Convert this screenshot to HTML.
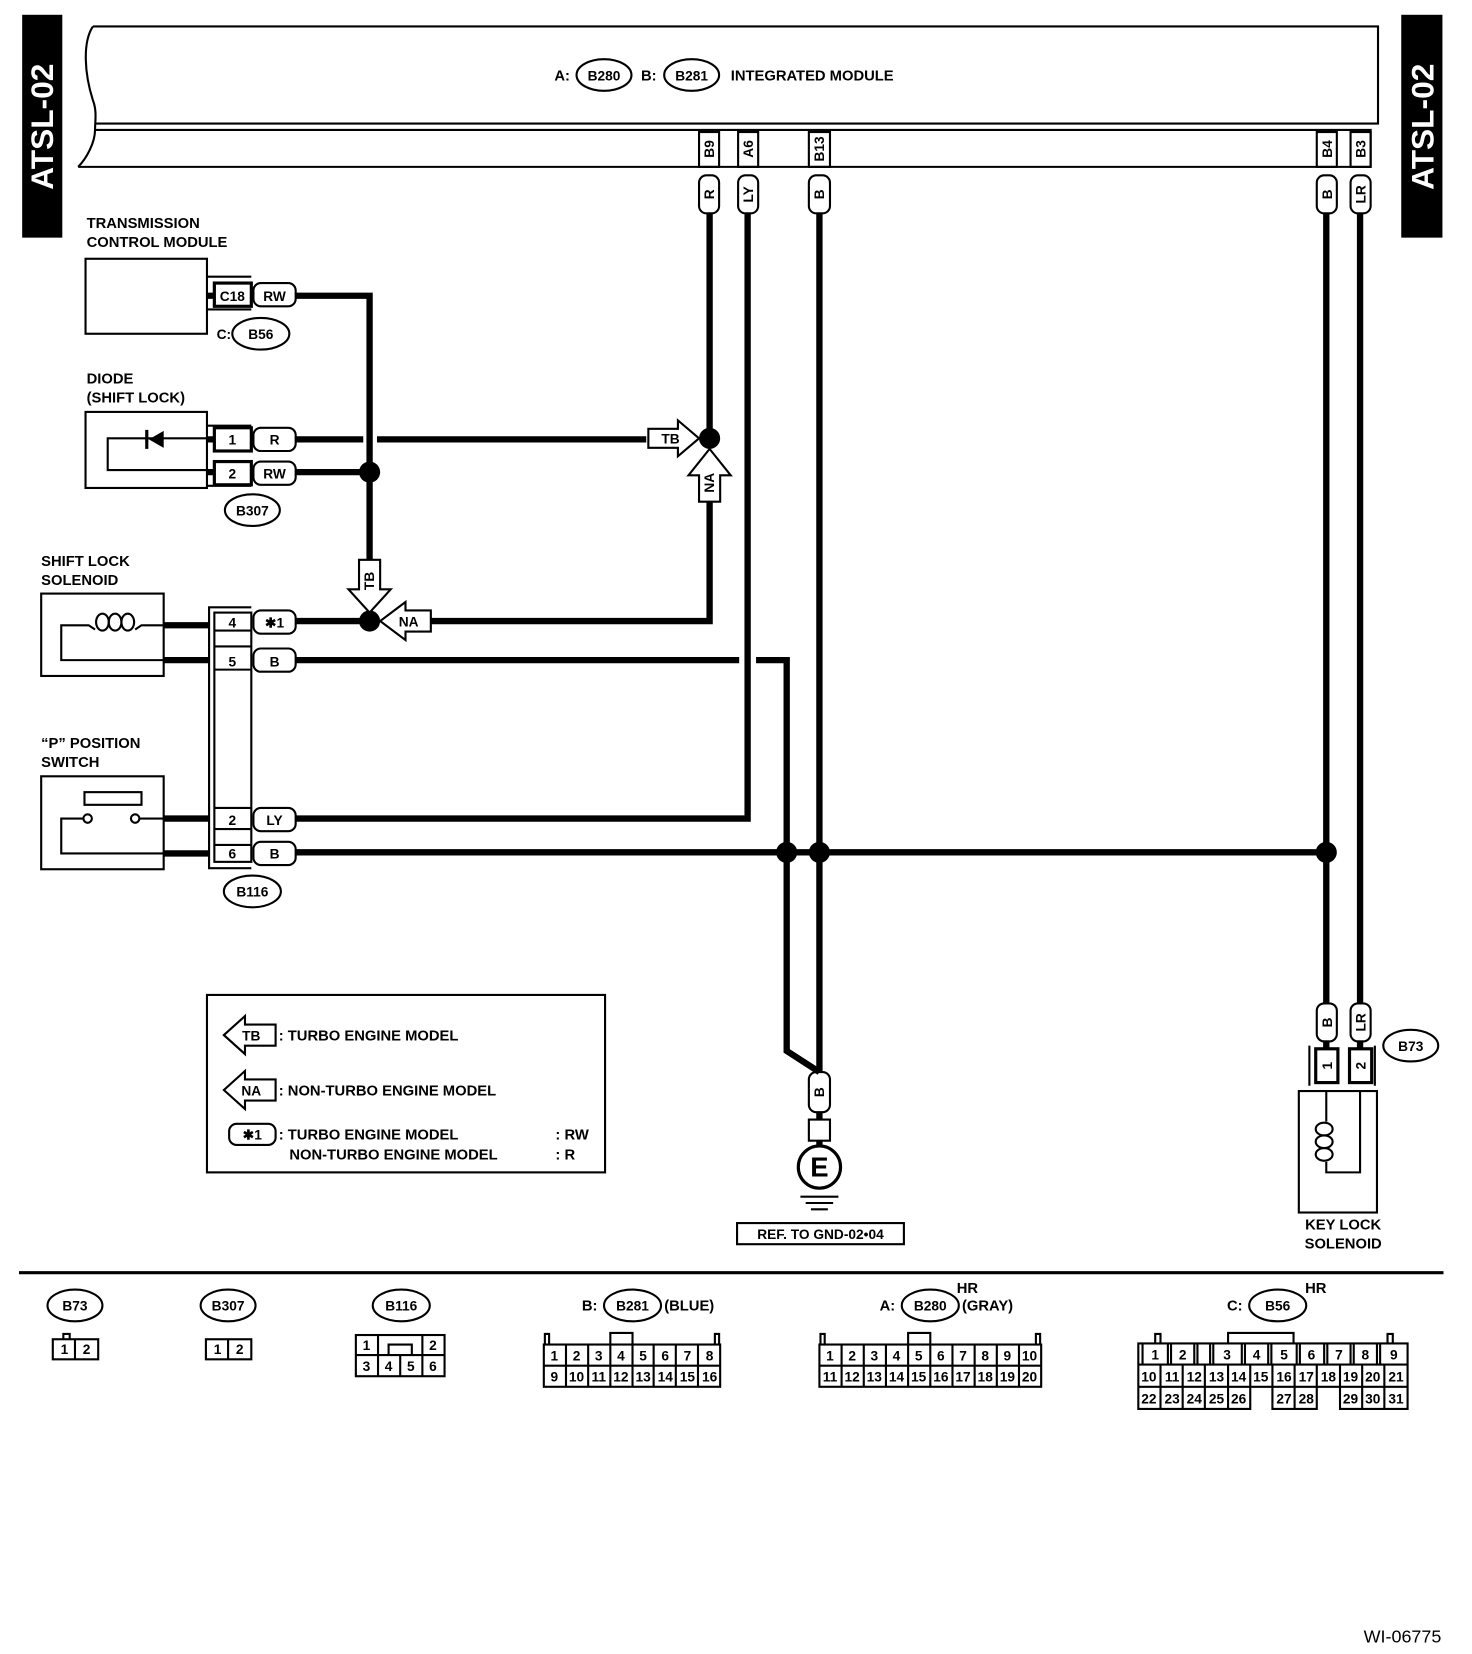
<!DOCTYPE html>
<html><head><meta charset="utf-8"><style>
html,body{margin:0;padding:0;background:#fff;}
svg{display:block;}
text{font-family:"Liberation Sans",Arial,sans-serif;font-weight:bold;fill:#000;}
.t{font-size:14px;}
.s{font-size:13px;font-weight:normal;}
</style></head><body>
<svg width="1472" height="1654" viewBox="0 0 1394 1566" preserveAspectRatio="none" xmlns="http://www.w3.org/2000/svg">
<g fill="none" stroke="#000" stroke-width="2">
<rect x="22" y="15" width="36" height="209" fill="#000"/>
<rect x="1328" y="15" width="37" height="209" fill="#000"/>
<path d="M88 25 H1305 V117 H90 M90 123 H1298 V158 H74"/>
<path d="M88 25 C78 40, 80 70, 88 95 C92 105, 90 115, 90 123 C90 135, 82 150, 74 158"/>
<rect x="662" y="125" width="19" height="33"/><rect x="699" y="125" width="19" height="33"/>
<rect x="766" y="125" width="20" height="33"/><rect x="1247" y="125" width="19" height="33"/>
<rect x="1279" y="125" width="19" height="33"/>
<rect x="662" y="166" width="19" height="36" rx="7"/><rect x="699" y="166" width="19" height="36" rx="7"/>
<rect x="766" y="166" width="20" height="36" rx="7"/><rect x="1247" y="166" width="19" height="36" rx="7"/>
<rect x="1279" y="166" width="19" height="36" rx="7"/>
<ellipse cx="572" cy="71" rx="26" ry="15"/><ellipse cx="655" cy="71" rx="26" ry="15"/>
<rect x="81" y="245" width="115" height="71"/>
<path d="M196 262 H238 M196 293 H238"/>
<rect x="203" y="268" width="35" height="22" stroke-width="3"/>
<rect x="240" y="268" width="40" height="22" rx="7"/>
<ellipse cx="247" cy="316" rx="27" ry="15"/>
<rect x="81" y="390" width="115" height="72"/>
<path d="M196 403 H238 M196 460 H238"/>
<rect x="203" y="405" width="35" height="22" stroke-width="3"/>
<rect x="203" y="437" width="35" height="22" stroke-width="3"/>
<rect x="240" y="405" width="40" height="22" rx="7"/>
<rect x="240" y="437" width="40" height="22" rx="7"/>
<path d="M196 415 H102 V445 H196"/>
<path d="M139 407 V425" stroke-width="3"/>
<ellipse cx="239" cy="483" rx="26" ry="15"/>
<rect x="39" y="562" width="116" height="78"/>
<ellipse cx="97" cy="589" rx="6" ry="8"/><ellipse cx="109" cy="589" rx="6" ry="8"/><ellipse cx="121" cy="589" rx="6" ry="8"/>
<path d="M155 592 H134 L128 596 M90 596 L84 592 H58 V625 H155"/>
<rect x="39" y="735" width="116" height="88"/>
<rect x="80" y="750" width="54" height="12"/>
<circle cx="83" cy="775" r="4"/><circle cx="128" cy="775" r="4"/>
<path d="M79 775 H58 V808 H155 M132 775 H155"/>
<path d="M238 575 H198 V822 H238"/>
<rect x="203" y="580" width="35" height="236"/>
<path d="M203 597 H238 M203 612 H238 M203 634 H238 M203 765 H238 M203 785 H238 M203 800 H238"/>
<rect x="240" y="578" width="40" height="22" rx="7"/><rect x="240" y="614" width="40" height="22" rx="7"/>
<rect x="240" y="765" width="40" height="22" rx="7"/><rect x="240" y="797" width="40" height="22" rx="7"/>
<ellipse cx="239" cy="844" rx="27" ry="15"/>
<rect x="196" y="942" width="377" height="168"/>
<path d="M212 980 L232 962 V970 H261 V990 H232 V998 Z"/>
<path d="M212 1032 L232 1014 V1022 H261 V1042 H232 V1050 Z"/>
<rect x="217" y="1064" width="44" height="20" rx="7"/>
<rect x="766" y="1015" width="20" height="38" rx="7"/>
<rect x="766" y="1060" width="20" height="20"/>
<circle cx="776" cy="1105" r="20" stroke-width="3"/>
<path d="M758 1133 H794 M763 1139 H789 M768 1145 H784"/>
<rect x="698" y="1158" width="158" height="20"/>
<rect x="1247" y="950" width="19" height="36" rx="7"/><rect x="1279" y="950" width="19" height="36" rx="7"/>
<path d="M1240 1028 V990 M1302 1028 V990"/>
<rect x="1246" y="993" width="21" height="32" stroke-width="3"/><rect x="1278" y="993" width="21" height="32" stroke-width="3"/>
<ellipse cx="1336" cy="990" rx="26" ry="15"/>
<rect x="1230" y="1033" width="74" height="115"/>
<ellipse cx="1254" cy="1069" rx="8" ry="6"/><ellipse cx="1254" cy="1081" rx="8" ry="6"/><ellipse cx="1254" cy="1093" rx="8" ry="6"/>
<path d="M1256 1033 V1062 M1256 1100 V1110 H1288 V1033"/>
<path d="M18 1205 H1367" stroke-width="3"/>
<ellipse cx="71" cy="1236" rx="26" ry="15"/><ellipse cx="216" cy="1236" rx="26" ry="15"/>
<ellipse cx="380" cy="1236" rx="27" ry="15"/><ellipse cx="599" cy="1236" rx="27" ry="15"/>
<ellipse cx="881" cy="1236" rx="27" ry="15"/><ellipse cx="1210" cy="1236" rx="27" ry="15"/>
<rect x="50" y="1268" width="43" height="19"/><path d="M71 1268 V1287 M60 1268 V1263 H66 V1268"/>
<rect x="195" y="1268" width="43" height="19"/><path d="M216 1268 V1287"/>
<rect x="337" y="1264" width="84" height="39"/><path d="M337 1283 H421 M358 1264 V1303 M400 1264 V1303 M379 1283 V1303 M368 1283 V1273 H390 V1283"/>
<rect x="515" y="1273" width="167" height="40"/>
<path d="M515 1293 H682 M536 1273 V1313 M557 1273 V1313 M578 1273 V1313 M599 1273 V1313 M619 1273 V1313 M640 1273 V1313 M661 1273 V1313 M578 1273 V1262 H599 V1273 M516 1273 V1263 H520 V1273 M677 1273 V1263 H681 V1273"/>
<rect x="776" y="1273" width="210" height="40"/>
<path d="M776 1293 H986 M797 1273 V1313 M818 1273 V1313 M839 1273 V1313 M860 1273 V1313 M881 1273 V1313 M902 1273 V1313 M923 1273 V1313 M944 1273 V1313 M965 1273 V1313 M860 1273 V1262 H881 V1273 M777 1273 V1263 H781 V1273 M981 1273 V1263 H985 V1273"/>
<path d="M1078 1272 H1333 V1334 H1269 V1313 H1247 V1334 H1205 V1313 H1184 V1334 H1078 Z"/>
<path d="M1078 1292 H1333 M1078 1313 H1184 M1205 1313 H1247 M1269 1313 H1333"/>
<path d="M1099 1292 V1334 M1120 1292 V1334 M1141 1292 V1334 M1163 1292 V1334 M1184 1292 V1313 M1205 1292 V1313 M1226 1292 V1334 M1247 1292 V1313 M1269 1292 V1313 M1290 1292 V1334 M1311 1292 V1334"/>
<path d="M1082 1272 V1292 M1106 1272 V1292 M1109 1272 V1292 M1131 1272 V1292 M1134 1272 V1292 M1146 1272 V1292 M1149 1272 V1292 M1176 1272 V1292 M1179 1272 V1292 M1201 1272 V1292 M1204 1272 V1292 M1228 1272 V1292 M1231 1272 V1292 M1254 1272 V1292 M1257 1272 V1292 M1279 1272 V1292 M1282 1272 V1292 M1304 1272 V1292 M1307 1272 V1292"/>
<path d="M1163 1272 V1262 H1225 V1272 M1094 1272 V1263 H1099 V1272 M1314 1272 V1263 H1319 V1272"/>
</g>
<g fill="none" stroke="#000" stroke-width="6">
<path d="M672 202 V415 M708 202 V775 H280 M776 202 V1015 M1256 202 V950 M1288 202 V950"/>
<path d="M280 280 H350 V588 M280 447 H350 M280 416 H344 M357 416 H612 M280 588 H350 M408 588 H672 V475"/>
<path d="M280 625 H700 M716 625 H745 V995 L776 1015 M280 807 H1256"/>
<path d="M155 592 H198 M155 625 H198 M155 775 H198 M155 808 H198 M196 280 H203 M196 416 H203 M196 447 H203 M1256 985 V993 M1288 985 V993 M776 1053 V1060 M776 1080 V1085"/>
</g>
<g fill="#000">
<circle cx="350" cy="447" r="10"/><circle cx="350" cy="588" r="10"/>
<circle cx="745" cy="807" r="10"/><circle cx="776" cy="807" r="10"/><circle cx="1256" cy="807" r="10"/>
<path d="M141 416 L155 408 V424 Z"/>
</g>
<g fill="#fff" stroke="#000" stroke-width="2">
<path d="M614 406 H642 V398 L662 415 L642 432 V424 H614 Z"/>
<path d="M662 475 V450 H652 L672 425 L692 450 H682 V475 Z"/>
<path d="M340 530 V558 H330 L350 580 L370 558 H360 V530 Z"/>
<path d="M408 578 H384 V570 L360 588 L384 606 V598 H408 Z"/>
</g>
<circle cx="672" cy="415" r="10" fill="#000"/>
<text x="40" y="120" font-size="30" style="fill:#fff" transform="rotate(-90 40 120)" text-anchor="middle" dominant-baseline="central">ATSL-02</text>
<text x="1347" y="120" font-size="30" style="fill:#fff" transform="rotate(-90 1347 120)" text-anchor="middle" dominant-baseline="central">ATSL-02</text>
<g class="t">
<text x="525" y="76">A:</text><text x="572" y="76" text-anchor="middle" font-size="13">B280</text>
<text x="607" y="76">B:</text><text x="655" y="76" text-anchor="middle" font-size="13">B281</text>
<text x="692" y="76">INTEGRATED MODULE</text>
<text x="82" y="216">TRANSMISSION</text><text x="82" y="234">CONTROL MODULE</text>
<text x="82" y="363">DIODE</text><text x="82" y="381">(SHIFT LOCK)</text>
<text x="39" y="536">SHIFT LOCK</text><text x="39" y="554">SOLENOID</text>
<text x="39" y="708">“P” POSITION</text><text x="39" y="726">SWITCH</text>
<text x="1272" y="1164" text-anchor="middle">KEY LOCK</text><text x="1272" y="1182" text-anchor="middle">SOLENOID</text>
</g>
<g font-size="13" text-anchor="middle">
<text x="220" y="285">C18</text><text x="260" y="285">RW</text>
<text x="212" y="321">C:</text><text x="247" y="321">B56</text>
<text x="220" y="421">1</text><text x="260" y="421">R</text>
<text x="220" y="453">2</text><text x="260" y="453">RW</text>
<text x="239" y="488">B307</text>
<text x="220" y="594">4</text><text x="260" y="594">✱1</text>
<text x="220" y="631">5</text><text x="260" y="631">B</text>
<text x="220" y="781">2</text><text x="260" y="781">LY</text>
<text x="220" y="813">6</text><text x="260" y="813">B</text>
<text x="239" y="849">B116</text>
<text x="635" y="420">TB</text>
<text x="387" y="593">NA</text>
<text x="238" y="985">TB</text><text x="238" y="1037">NA</text><text x="239" y="1079">✱1</text>
<text x="777" y="1173">REF. TO GND-02•04</text>
<text x="1336" y="995">B73</text>
</g>
<g font-size="13">
<text x="672" y="457" transform="rotate(-90 672 457)" text-anchor="middle" dominant-baseline="central">NA</text>
<text x="350" y="550" transform="rotate(-90 350 550)" text-anchor="middle" dominant-baseline="central">TB</text>
<text x="672" y="141" transform="rotate(-90 672 141)" text-anchor="middle" dominant-baseline="central">B9</text>
<text x="709" y="141" transform="rotate(-90 709 141)" text-anchor="middle" dominant-baseline="central">A6</text>
<text x="776" y="141" transform="rotate(-90 776 141)" text-anchor="middle" dominant-baseline="central">B13</text>
<text x="1257" y="141" transform="rotate(-90 1257 141)" text-anchor="middle" dominant-baseline="central">B4</text>
<text x="1289" y="141" transform="rotate(-90 1289 141)" text-anchor="middle" dominant-baseline="central">B3</text>
<text x="672" y="184" transform="rotate(-90 672 184)" text-anchor="middle" dominant-baseline="central">R</text>
<text x="709" y="184" transform="rotate(-90 709 184)" text-anchor="middle" dominant-baseline="central">LY</text>
<text x="776" y="184" transform="rotate(-90 776 184)" text-anchor="middle" dominant-baseline="central">B</text>
<text x="1257" y="184" transform="rotate(-90 1257 184)" text-anchor="middle" dominant-baseline="central">B</text>
<text x="1289" y="184" transform="rotate(-90 1289 184)" text-anchor="middle" dominant-baseline="central">LR</text>
<text x="1257" y="968" transform="rotate(-90 1257 968)" text-anchor="middle" dominant-baseline="central">B</text>
<text x="1289" y="968" transform="rotate(-90 1289 968)" text-anchor="middle" dominant-baseline="central">LR</text>
<text x="1257" y="1009" transform="rotate(-90 1257 1009)" text-anchor="middle" dominant-baseline="central">1</text>
<text x="1289" y="1009" transform="rotate(-90 1289 1009)" text-anchor="middle" dominant-baseline="central">2</text>
<text x="776" y="1034" transform="rotate(-90 776 1034)" text-anchor="middle" dominant-baseline="central">B</text>
</g>
<text x="776" y="1114" font-size="26" text-anchor="middle">E</text>
<g font-size="14">
<text x="264" y="985">: TURBO ENGINE MODEL</text>
<text x="264" y="1037">: NON-TURBO ENGINE MODEL</text>
<text x="264" y="1079">: TURBO ENGINE MODEL</text><text x="274" y="1098">NON-TURBO ENGINE MODEL</text>
<text x="526" y="1079">: RW</text><text x="526" y="1098">: R</text>
</g>
<g font-size="13" text-anchor="middle">
<text x="71" y="1241">B73</text><text x="216" y="1241">B307</text><text x="380" y="1241">B116</text>
<text x="599" y="1241">B281</text><text x="881" y="1241">B280</text><text x="1210" y="1241">B56</text>
</g>
<g font-size="14">
<text x="551" y="1241">B:</text><text x="629" y="1241">(BLUE)</text>
<text x="833" y="1241">A:</text><text x="911" y="1241">(GRAY)</text><text x="906" y="1224">HR</text>
<text x="1162" y="1241">C:</text><text x="1236" y="1224">HR</text>
</g>
<g class="s" text-anchor="middle">
<text x="61" y="1282">1</text><text x="82" y="1282">2</text>
<text x="206" y="1282">1</text><text x="227" y="1282">2</text>
<text x="347" y="1278">1</text><text x="410" y="1278">2</text>
<text x="347" y="1298">3</text><text x="368" y="1298">4</text><text x="389" y="1298">5</text><text x="410" y="1298">6</text>
<text x="525" y="1288">1</text><text x="546" y="1288">2</text><text x="567" y="1288">3</text><text x="588" y="1288">4</text><text x="609" y="1288">5</text><text x="630" y="1288">6</text><text x="651" y="1288">7</text><text x="672" y="1288">8</text>
<text x="525" y="1308">9</text><text x="546" y="1308">10</text><text x="567" y="1308">11</text><text x="588" y="1308">12</text><text x="609" y="1308">13</text><text x="630" y="1308">14</text><text x="651" y="1308">15</text><text x="672" y="1308">16</text>
<text x="786" y="1288">1</text><text x="807" y="1288">2</text><text x="828" y="1288">3</text><text x="849" y="1288">4</text><text x="870" y="1288">5</text><text x="891" y="1288">6</text><text x="912" y="1288">7</text><text x="933" y="1288">8</text><text x="954" y="1288">9</text><text x="975" y="1288">10</text>
<text x="786" y="1308">11</text><text x="807" y="1308">12</text><text x="828" y="1308">13</text><text x="849" y="1308">14</text><text x="870" y="1308">15</text><text x="891" y="1308">16</text><text x="912" y="1308">17</text><text x="933" y="1308">18</text><text x="954" y="1308">19</text><text x="975" y="1308">20</text>
<text x="1094" y="1287">1</text><text x="1120" y="1287">2</text><text x="1162" y="1287">3</text><text x="1190" y="1287">4</text><text x="1216" y="1287">5</text><text x="1242" y="1287">6</text><text x="1268" y="1287">7</text><text x="1293" y="1287">8</text><text x="1320" y="1287">9</text>
<text x="1088" y="1308">10</text><text x="1110" y="1308">11</text><text x="1131" y="1308">12</text><text x="1152" y="1308">13</text><text x="1173" y="1308">14</text><text x="1194" y="1308">15</text><text x="1216" y="1308">16</text><text x="1237" y="1308">17</text><text x="1258" y="1308">18</text><text x="1279" y="1308">19</text><text x="1300" y="1308">20</text><text x="1322" y="1308">21</text>
<text x="1088" y="1329">22</text><text x="1110" y="1329">23</text><text x="1131" y="1329">24</text><text x="1152" y="1329">25</text><text x="1173" y="1329">26</text><text x="1216" y="1329">27</text><text x="1237" y="1329">28</text><text x="1279" y="1329">29</text><text x="1300" y="1329">30</text><text x="1322" y="1329">31</text>
</g>
<text x="1365" y="1555" font-size="17" text-anchor="end" style="font-weight:normal">WI-06775</text>
</svg>
</body></html>
